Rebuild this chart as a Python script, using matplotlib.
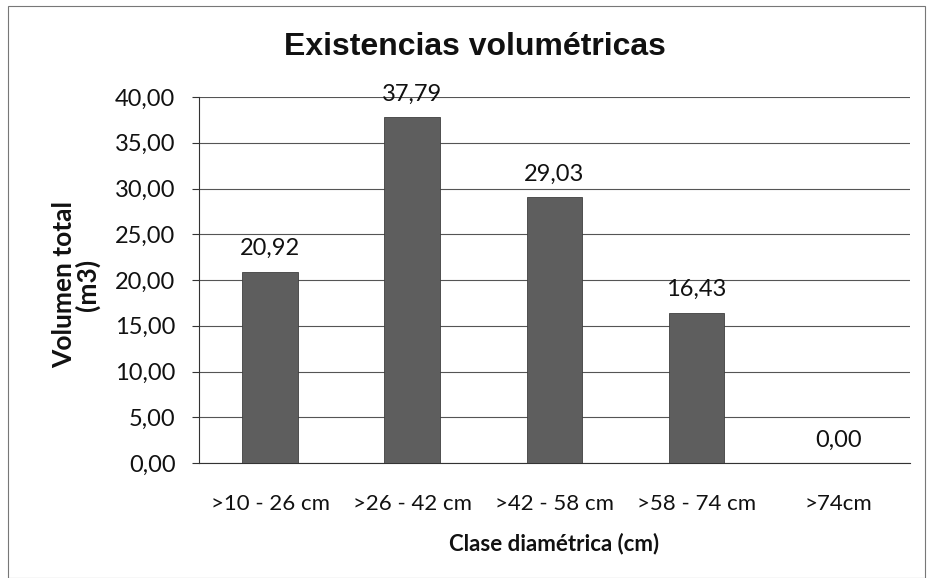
import matplotlib
matplotlib.use("Agg")
import matplotlib.pyplot as plt
from matplotlib.patches import Rectangle
from matplotlib.ticker import FuncFormatter, MultipleLocator

categories = [">10 - 26 cm", ">26 - 42 cm", ">42 - 58 cm", ">58 - 74 cm", ">74cm"]
volumes = [20.92, 37.79, 29.03, 16.43, 0.00]

title = "Existencias volumétricas"
xlabel = "Clase diamétrica (cm)"
ylabel = "Volumen total\n(m3)"

tick_font = "Lato"
fig = plt.figure(figsize=(9.3, 5.78), dpi=100)
ax = fig.add_axes([0.214, 0.199, 0.764, 0.633])

x = list(range(len(categories)))
bars = ax.bar(x, volumes, width=0.39, color="#5e5e5e", edgecolor="#3f3f3f",
              linewidth=0.6, zorder=3)

def fmt(v, pos=None):
    return f"{v:.2f}".replace(".", ",")

for xi, v in zip(x, volumes):
    ax.annotate(fmt(v), (xi, v), xytext=(0, 9), textcoords="offset points",
                ha="center", va="bottom", fontsize=17, family=tick_font, color="#111111")

ax.set_xlim(-0.5, len(categories) - 0.5)
ax.set_ylim(0, 40)
ax.yaxis.set_major_locator(MultipleLocator(5))
ax.yaxis.set_major_formatter(FuncFormatter(fmt))
ax.grid(axis="y", color="#555555", linewidth=0.8, zorder=0)
ax.set_xticks(x)
ax.set_xticklabels(categories)
ax.tick_params(axis="x", length=0, pad=22, labelsize=16)
ax.tick_params(axis="y", length=5, width=0.8, color="#333333", pad=12, labelsize=17)
for lab in ax.get_xticklabels() + ax.get_yticklabels():
    lab.set_family(tick_font)
    lab.set_color("#111111")

for s in ["top", "right"]:
    ax.spines[s].set_visible(False)
ax.spines["left"].set_color("#333333")
ax.spines["bottom"].set_color("#333333")
ax.spines["left"].set_linewidth(0.8)
ax.spines["bottom"].set_linewidth(0.8)

ax.set_xlabel(xlabel, fontsize=16, fontweight="bold", family=tick_font, labelpad=14,
              color="#111111")

fig.text(76 / 930, 1 - 285 / 578, ylabel, rotation=90, ha="center", va="center",
         fontsize=19, fontweight="bold", family=tick_font, linespacing=0.95,
         multialignment="center", color="#111111")

fig.text(0.511, 1 - 47 / 578, title, ha="center", va="center", fontsize=23,
         fontweight="bold", family="Liberation Sans", color="#111111")

fig.patches.append(Rectangle((0.009, 0.0), 0.986, 0.99, transform=fig.transFigure,
                             fill=False, edgecolor="#777777", linewidth=0.8))

fig.savefig("out.png", dpi=100)
